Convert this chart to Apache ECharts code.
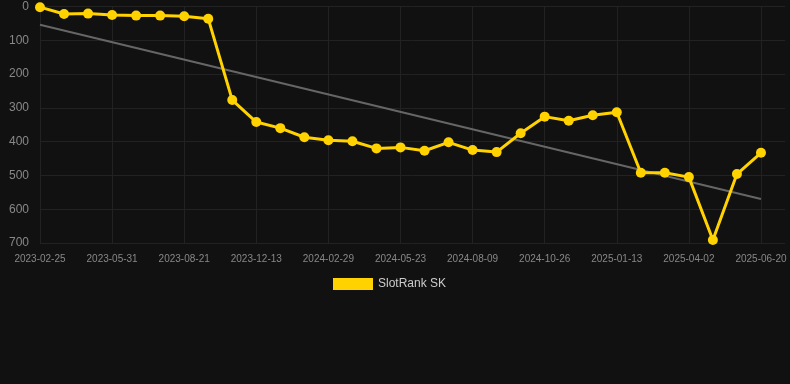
<!DOCTYPE html>
<html>
<head>
<meta charset="utf-8">
<script src="https://cdn.jsdelivr.net/npm/echarts@6/dist/echarts.min.js"></script>
<style>
  html, body { margin: 0; padding: 0; background: #111111; }
  #chart { width: 790px; height: 384px; }
</style>
</head>
<body>
<div id="chart"></div>
<script>
// x categories (one per snapshot)
const dates = [
  '2023-02-25', '2023-03-28', '2023-04-29',
  '2023-05-31', '2023-06-27', '2023-07-24',
  '2023-08-21', '2023-09-28', '2023-11-05',
  '2023-12-13', '2024-01-08', '2024-02-03',
  '2024-02-29', '2024-03-28', '2024-04-25',
  '2024-05-23', '2024-06-18', '2024-07-14',
  '2024-08-09', '2024-09-04', '2024-09-30',
  '2024-10-26', '2024-11-21', '2024-12-18',
  '2025-01-13', '2025-02-08', '2025-03-06',
  '2025-04-02', '2025-04-28', '2025-05-24',
  '2025-06-20',
];

// rank values (lower is better, axis is inverted)
const rankSK = [
  2, 22, 21, 25, 27, 27, 29, 36,
  277, 342, 360, 387, 396, 399, 420, 417,
  427, 402, 425, 431, 375, 326, 338, 322,
  313, 492, 492, 505, 691, 496, 433,
];

// trend line, only its two ends
const trendEnds = [54, 570];
const trend = dates.map((d, i) => i === 0 ? trendEnds[0] : (i === dates.length - 1 ? trendEnds[1] : null));

const yTicks = { min: 0, max: 700, step: 100 };

const chart = echarts.init(document.getElementById('chart'));

const option = {
  backgroundColor: '#111111',
  animation: false,
  grid: { left: 40, right: 5, top: 6.5, bottom: 141 },
  legend: {
    data: ['SlotRank SK'],
    top: 273,
    left: 328,
    icon: 'rect',
    itemWidth: 40,
    itemHeight: 12,
    itemGap: 10,
    textStyle: { color: '#cccccc', fontSize: 12, fontFamily: 'Liberation Sans, Arial, sans-serif' },
  },
  xAxis: {
    type: 'category',
    data: dates,
    boundaryGap: false,
    max: dates.length,
    axisLine: { show: false },
    axisTick: { show: false },
    axisLabel: {
      interval: 2,
      color: '#888888',
      fontSize: 10,
      margin: 11,
      fontFamily: 'Liberation Sans, Arial, sans-serif',
    },
    splitLine: { show: true, interval: 2, lineStyle: { color: '#222222', width: 1 } },
  },
  yAxis: {
    type: 'value',
    inverse: true,
    min: yTicks.min,
    max: yTicks.max,
    interval: yTicks.step,
    axisLine: { show: false },
    axisTick: { show: false },
    axisLabel: {
      color: '#888888',
      fontSize: 12,
      margin: 11,
      fontFamily: 'Liberation Sans, Arial, sans-serif',
    },
    splitLine: { lineStyle: { color: '#222222', width: 1 } },
  },
  series: [
    {
      name: 'Trend',
      type: 'line',
      data: trend,
      connectNulls: true,
      showSymbol: false,
      symbol: 'none',
      lineStyle: { color: '#666666', width: 2 },
      z: 1,
    },
    {
      name: 'SlotRank SK',
      type: 'line',
      data: rankSK,
      symbol: 'circle',
      symbolSize: 10,
      lineStyle: { color: '#ffd200', width: 3 },
      itemStyle: { color: '#ffd200' },
      z: 2,
    },
  ],
};

chart.setOption(option);
</script>
</body>
</html>
